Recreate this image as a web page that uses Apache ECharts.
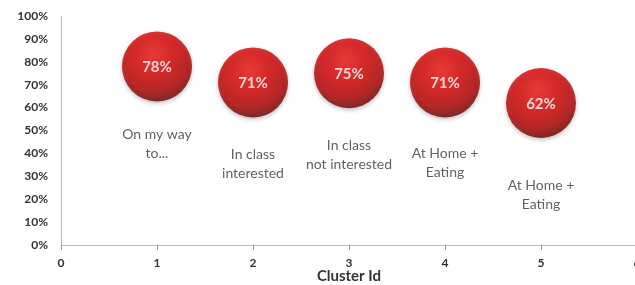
<!DOCTYPE html>
<html>
<head>
<meta charset="utf-8">
<script src="https://cdn.jsdelivr.net/npm/echarts@6/dist/echarts.min.js"></script>
<style>
  html, body { margin: 0; padding: 0; background: #fff; }
  #chart { width: 635px; height: 285px; }
</style>
</head>
<body>
<div id="chart"></div>
<script>
// cluster ids and share per cluster
const clusterIds = [1, 2, 3, 4, 5];
const shareValues = [78, 71, 75, 71, 62];
const clusterNames = [
  'On my way\nto...',
  'In class\ninterested',
  'In class\nnot interested',
  'At Home +\nEating',
  'At Home +\nEating',
];
// gap between bubble and its caption
const captionGap = [24, 28, 28, 27, 38];

const sphere = new echarts.graphic.RadialGradient(0.45, 0.32, 0.72, [
  { offset: 0, color: '#f01818' },
  { offset: 0.4, color: '#d80202' },
  { offset: 0.75, color: '#b00000' },
  { offset: 1, color: '#5a0000' },
]);

const chart = echarts.init(document.getElementById('chart'));
chart.setOption({
  animation: false,
  backgroundColor: '#fff',
  grid: { left: 61, right: -2, top: 16, bottom: 40, outerBoundsMode: 'none', containLabel: false },
  xAxis: {
    type: 'value',
    min: 0,
    max: 6,
    interval: 1,
    name: 'Cluster Id',
    nameLocation: 'middle',
    nameGap: 24,
    nameMoveOverlap: false,
    nameTextStyle: { fontFamily: 'Lato', fontWeight: 'bold', fontSize: 15, color: '#333' },
    splitLine: { show: false },
    axisLine: { lineStyle: { color: '#bbb' } },
    axisTick: { show: true, length: 5, lineStyle: { color: '#999' } },
    axisLabel: { fontFamily: 'Lato', fontWeight: 'bold', fontSize: 12, color: '#333', margin: 12 },
  },
  yAxis: {
    type: 'value',
    min: 0,
    max: 100,
    interval: 10,
    splitLine: { show: false },
    axisLine: { show: true, lineStyle: { color: '#bbb' } },
    axisTick: { show: false },
    axisLabel: {
      formatter: '{value}%',
      fontFamily: 'Lato', fontWeight: 'bold', fontSize: 12, color: '#333', margin: 13,
    },
  },
  series: [
    {
      type: 'scatter',
      symbolSize: 70,
      data: clusterIds.map((id, i) => [id, shareValues[i]]),
      itemStyle: {
        color: sphere,
        shadowBlur: 4,
        shadowColor: 'rgba(0,0,0,0.3)',
        shadowOffsetY: 2,
      },
      label: {
        show: true,
        position: 'inside',
        formatter: p => p.value[1] + '%',
        color: '#fff',
        fontFamily: 'Lato',
        fontWeight: 'bold',
        fontSize: 15,
        offset: [0, 1],
      },
      z: 3,
    },
    {
      type: 'scatter',
      symbolSize: 70,
      silent: true,
      itemStyle: { color: 'rgba(0,0,0,0)' },
      data: clusterIds.map((id, i) => ({
        value: [id, shareValues[i]],
        label: { distance: captionGap[i] },
      })),
      label: {
        show: true,
        position: 'bottom',
        formatter: p => clusterNames[p.dataIndex],
        color: '#3a3a3a',
        fontFamily: 'Lato',
        fontSize: 14,
        lineHeight: 19,
        align: 'center',
      },
      z: 2,
    },
  ],
});
</script>
</body>
</html>
